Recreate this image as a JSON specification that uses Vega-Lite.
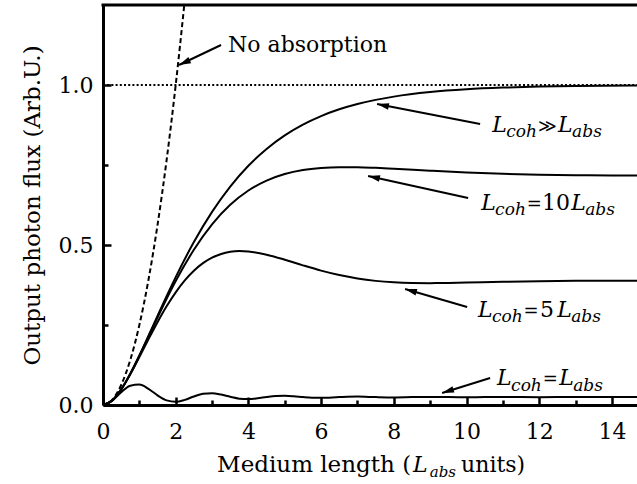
{
  "$schema": "https://vega.github.io/schema/vega-lite/v6.json",
  "width": 534,
  "height": 400,
  "autosize": {"type": "none"},
  "padding": {"left": 103, "top": 5, "right": 0, "bottom": 79},
  "background": "white",
  "config": {
    "view": {"stroke": null},
    "font": "DejaVu Serif, Liberation Serif, serif",
    "axis": {
      "grid": false,
      "domain": true,
      "domainColor": "black",
      "domainWidth": 3,
      "tickColor": "black",
      "tickWidth": 2.5,
      "tickSize": -8,
      "labelFont": "DejaVu Serif, Liberation Serif, serif",
      "labelFontSize": 22,
      "labelColor": "black",
      "labelFlush": false,
      "labelOverlap": false,
      "labelBound": false,
      "titleFont": "DejaVu Serif, Liberation Serif, serif",
      "titleFontWeight": "normal",
      "titleColor": "black"
    }
  },
  "datasets": {
    "curves": [
      {"s": "inf", "x": 0, "y": 0}, {"s": "inf", "x": 0.25, "y": 0.0138}, {"s": "inf", "x": 0.5, "y": 0.0489}, {"s": "inf", "x": 0.75, "y": 0.0978},
      {"s": "inf", "x": 1, "y": 0.1548}, {"s": "inf", "x": 1.25, "y": 0.2159}, {"s": "inf", "x": 1.5, "y": 0.2784}, {"s": "inf", "x": 1.75, "y": 0.34},
      {"s": "inf", "x": 2, "y": 0.3996}, {"s": "inf", "x": 2.5, "y": 0.5091}, {"s": "inf", "x": 3, "y": 0.6035}, {"s": "inf", "x": 3.5, "y": 0.6826},
      {"s": "inf", "x": 4, "y": 0.7477}, {"s": "inf", "x": 4.5, "y": 0.8003}, {"s": "inf", "x": 5, "y": 0.8426}, {"s": "inf", "x": 5.5, "y": 0.8762},
      {"s": "inf", "x": 6, "y": 0.9029}, {"s": "inf", "x": 6.5, "y": 0.924}, {"s": "inf", "x": 7, "y": 0.9405}, {"s": "inf", "x": 7.5, "y": 0.9535},
      {"s": "inf", "x": 8, "y": 0.9637}, {"s": "inf", "x": 9, "y": 0.9779}, {"s": "inf", "x": 10, "y": 0.9866}, {"s": "inf", "x": 11, "y": 0.9918},
      {"s": "inf", "x": 12, "y": 0.995}, {"s": "inf", "x": 13, "y": 0.997}, {"s": "inf", "x": 14.69, "y": 0.9987},
      {"s": "c10", "x": 0, "y": 0}, {"s": "c10", "x": 0.25, "y": 0.0138}, {"s": "c10", "x": 0.5, "y": 0.0488}, {"s": "c10", "x": 0.75, "y": 0.0973},
      {"s": "c10", "x": 1, "y": 0.1536}, {"s": "c10", "x": 1.25, "y": 0.2133}, {"s": "c10", "x": 1.5, "y": 0.2734}, {"s": "c10", "x": 1.75, "y": 0.3319},
      {"s": "c10", "x": 2, "y": 0.3873}, {"s": "c10", "x": 2.5, "y": 0.4853}, {"s": "c10", "x": 3, "y": 0.5646}, {"s": "c10", "x": 3.5, "y": 0.6255},
      {"s": "c10", "x": 4, "y": 0.6702}, {"s": "c10", "x": 4.5, "y": 0.7013}, {"s": "c10", "x": 5, "y": 0.7218}, {"s": "c10", "x": 5.5, "y": 0.7343},
      {"s": "c10", "x": 6, "y": 0.7408}, {"s": "c10", "x": 6.5, "y": 0.7433}, {"s": "c10", "x": 7, "y": 0.7431}, {"s": "c10", "x": 7.5, "y": 0.7412},
      {"s": "c10", "x": 8, "y": 0.7385}, {"s": "c10", "x": 9, "y": 0.7322}, {"s": "c10", "x": 10, "y": 0.7267}, {"s": "c10", "x": 11, "y": 0.7226},
      {"s": "c10", "x": 12, "y": 0.7199}, {"s": "c10", "x": 13, "y": 0.7183}, {"s": "c10", "x": 14, "y": 0.7174}, {"s": "c10", "x": 14.69, "y": 0.7171},
      {"s": "c5", "x": 0, "y": 0}, {"s": "c5", "x": 0.25, "y": 0.0138}, {"s": "c5", "x": 0.5, "y": 0.0485}, {"s": "c5", "x": 0.75, "y": 0.096},
      {"s": "c5", "x": 1, "y": 0.1498}, {"s": "c5", "x": 1.25, "y": 0.2053}, {"s": "c5", "x": 1.5, "y": 0.2589}, {"s": "c5", "x": 1.75, "y": 0.3083},
      {"s": "c5", "x": 2, "y": 0.352}, {"s": "c5", "x": 2.25, "y": 0.3892}, {"s": "c5", "x": 2.5, "y": 0.4195}, {"s": "c5", "x": 2.75, "y": 0.4432},
      {"s": "c5", "x": 3, "y": 0.4605}, {"s": "c5", "x": 3.25, "y": 0.472}, {"s": "c5", "x": 3.5, "y": 0.4786}, {"s": "c5", "x": 3.75, "y": 0.4809},
      {"s": "c5", "x": 4, "y": 0.4797}, {"s": "c5", "x": 4.5, "y": 0.4697}, {"s": "c5", "x": 5, "y": 0.454}, {"s": "c5", "x": 5.5, "y": 0.4364},
      {"s": "c5", "x": 6, "y": 0.4199}, {"s": "c5", "x": 6.5, "y": 0.406}, {"s": "c5", "x": 7, "y": 0.3953}, {"s": "c5", "x": 7.5, "y": 0.3879},
      {"s": "c5", "x": 8, "y": 0.3834}, {"s": "c5", "x": 8.5, "y": 0.3813}, {"s": "c5", "x": 9, "y": 0.3808}, {"s": "c5", "x": 9.5, "y": 0.3813},
      {"s": "c5", "x": 10, "y": 0.3825}, {"s": "c5", "x": 11, "y": 0.3851}, {"s": "c5", "x": 12, "y": 0.3871}, {"s": "c5", "x": 13, "y": 0.3881},
      {"s": "c5", "x": 14, "y": 0.3883}, {"s": "c5", "x": 14.69, "y": 0.3882},
      {"s": "c1", "x": 0, "y": 0}, {"s": "c1", "x": 0.25, "y": 0.0131}, {"s": "c1", "x": 0.5, "y": 0.0397}, {"s": "c1", "x": 0.75, "y": 0.0604},
      {"s": "c1", "x": 1, "y": 0.0638}, {"s": "c1", "x": 1.25, "y": 0.0505}, {"s": "c1", "x": 1.5, "y": 0.0302}, {"s": "c1", "x": 1.75, "y": 0.0144},
      {"s": "c1", "x": 2, "y": 0.0099}, {"s": "c1", "x": 2.25, "y": 0.016}, {"s": "c1", "x": 2.5, "y": 0.0267}, {"s": "c1", "x": 2.75, "y": 0.0351},
      {"s": "c1", "x": 3, "y": 0.037}, {"s": "c1", "x": 3.25, "y": 0.0325}, {"s": "c1", "x": 3.5, "y": 0.0255}, {"s": "c1", "x": 3.75, "y": 0.0199},
      {"s": "c1", "x": 4, "y": 0.0185}, {"s": "c1", "x": 4.25, "y": 0.0209}, {"s": "c1", "x": 4.5, "y": 0.025}, {"s": "c1", "x": 4.75, "y": 0.0282},
      {"s": "c1", "x": 5, "y": 0.0289}, {"s": "c1", "x": 5.25, "y": 0.0274}, {"s": "c1", "x": 5.5, "y": 0.0248}, {"s": "c1", "x": 5.75, "y": 0.0228},
      {"s": "c1", "x": 6, "y": 0.0223}, {"s": "c1", "x": 6.5, "y": 0.0247}, {"s": "c1", "x": 7, "y": 0.0262}, {"s": "c1", "x": 7.5, "y": 0.0247},
      {"s": "c1", "x": 8, "y": 0.0238}, {"s": "c1", "x": 8.5, "y": 0.0247}, {"s": "c1", "x": 9, "y": 0.0253}, {"s": "c1", "x": 9.5, "y": 0.0247},
      {"s": "c1", "x": 10, "y": 0.0244}, {"s": "c1", "x": 10.5, "y": 0.0247}, {"s": "c1", "x": 11, "y": 0.0249}, {"s": "c1", "x": 12, "y": 0.0246},
      {"s": "c1", "x": 13, "y": 0.0248}, {"s": "c1", "x": 14, "y": 0.0247}, {"s": "c1", "x": 14.69, "y": 0.0247},
      {"s": "noabs", "x": 0, "y": 0}, {"s": "noabs", "x": 0.25, "y": 0.0156}, {"s": "noabs", "x": 0.5, "y": 0.0625}, {"s": "noabs", "x": 0.75, "y": 0.1406},
      {"s": "noabs", "x": 1, "y": 0.25}, {"s": "noabs", "x": 1.25, "y": 0.3906}, {"s": "noabs", "x": 1.5, "y": 0.5625}, {"s": "noabs", "x": 1.75, "y": 0.7656},
      {"s": "noabs", "x": 2, "y": 1.0}, {"s": "noabs", "x": 2.236, "y": 1.25},
      {"s": "ref", "x": 0, "y": 1.0}, {"s": "ref", "x": 14.69, "y": 1.0}
    ],
    "frame": [{"x": 0, "x2": 14.69, "y": 1.25}],
    "arrows": [
      {"id": "a1", "x": 2.091, "y": 1.0625, "x2": 3.247, "y2": 1.125},
      {"id": "a2", "x": 7.54, "y": 0.9406, "x2": 10.374, "y2": 0.8781},
      {"id": "a3", "x": 7.292, "y": 0.7156, "x2": 10.044, "y2": 0.6469},
      {"id": "a4", "x": 8.31, "y": 0.3625, "x2": 10.017, "y2": 0.3063},
      {"id": "a5", "x": 9.329, "y": 0.0375, "x2": 10.649, "y2": 0.0844}
    ],
    "texts": [
      {"k": "up", "t": "No absorption", "x": 3.44, "y": 1.1031},
      {"k": "L", "t": "L", "x": 10.705, "y": 0.8531},
      {"k": "sub", "t": "coh", "x": 11.09, "y": 0.8375},
      {"k": "sym", "t": "≫", "x": 11.957, "y": 0.8531},
      {"k": "L", "t": "L", "x": 12.52, "y": 0.8531},
      {"k": "sub", "t": "abs", "x": 12.905, "y": 0.8375},
      {"k": "L", "t": "L", "x": 10.402, "y": 0.6094},
      {"k": "sub", "t": "coh", "x": 10.787, "y": 0.5922},
      {"k": "sym", "t": "=", "x": 11.654, "y": 0.6094},
      {"k": "up", "t": "10", "x": 12.08, "y": 0.6094},
      {"k": "L", "t": "L", "x": 12.878, "y": 0.6094},
      {"k": "sub", "t": "abs", "x": 13.264, "y": 0.5922},
      {"k": "L", "t": "L", "x": 10.319, "y": 0.2759},
      {"k": "sub", "t": "coh", "x": 10.704, "y": 0.2594},
      {"k": "sym", "t": "=", "x": 11.571, "y": 0.2759},
      {"k": "up", "t": "5", "x": 12.025, "y": 0.2759},
      {"k": "L", "t": "L", "x": 12.493, "y": 0.2759},
      {"k": "sub", "t": "abs", "x": 12.878, "y": 0.2594},
      {"k": "L", "t": "L", "x": 10.842, "y": 0.0625},
      {"k": "sub", "t": "coh", "x": 11.227, "y": 0.0453},
      {"k": "sym", "t": "=", "x": 12.094, "y": 0.0625},
      {"k": "L", "t": "L", "x": 12.548, "y": 0.0625},
      {"k": "sub", "t": "abs", "x": 12.933, "y": 0.0453},
      {"k": "upr", "t": "Medium length (", "x": 8.476, "y": -0.2094},
      {"k": "L", "t": "L", "x": 8.531, "y": -0.2094},
      {"k": "tsub", "t": "abs", "x": 8.99, "y": -0.225},
      {"k": "up", "t": "units)", "x": 9.85, "y": -0.2094}
    ]
  },
  "encoding": {
    "x": {
      "field": "x", "type": "quantitative",
      "scale": {"domain": [0, 14.69], "nice": false, "zero": false},
      "axis": {
        "title": null,
        "values": [0, 1, 2, 3, 4, 5, 6, 7, 8, 9, 10, 11, 12, 13, 14],
        "labelExpr": "datum.value % 2 === 0 ? datum.label : ''",
        "tickDash": {"condition": {"test": "datum.value % 2 === 1", "value": [5, 20]}, "value": [20, 0]},
        "labelPadding": 24
      }
    },
    "y": {
      "field": "y", "type": "quantitative",
      "scale": {"domain": [0, 1.25], "nice": false, "zero": false},
      "axis": {
        "title": "Output photon flux (Arb.U.)",
        "titleFontSize": 23,
        "titlePadding": 14,
        "values": [0, 0.25, 0.5, 0.75, 1],
        "labelExpr": "datum.value % 0.5 === 0 ? format(datum.value, '.1f') : ''",
        "tickDash": {"condition": {"test": "datum.value % 0.5 !== 0", "value": [5, 20]}, "value": [20, 0]},
        "labelPadding": 18
      }
    }
  },
  "layer": [
    {
      "data": {"name": "curves"},
      "transform": [{"filter": "datum.s !== 'noabs' && datum.s !== 'ref'"}],
      "mark": {"type": "line", "interpolate": "monotone", "color": "black", "strokeWidth": 2, "clip": true},
      "encoding": {"detail": {"field": "s"}}
    },
    {
      "data": {"name": "curves"},
      "transform": [{"filter": "datum.s === 'noabs'"}],
      "mark": {"type": "line", "interpolate": "monotone", "color": "black", "strokeWidth": 2, "strokeDash": [5, 3], "clip": true},
      "encoding": {}
    },
    {
      "data": {"name": "curves"},
      "transform": [{"filter": "datum.s === 'ref'"}],
      "mark": {"type": "line", "color": "black", "strokeWidth": 2, "strokeDash": [2, 2.2]},
      "encoding": {}
    },
    {
      "data": {"name": "frame"},
      "mark": {"type": "rule", "color": "black", "strokeWidth": 3, "strokeCap": "square"},
      "encoding": {"x2": {"field": "x2"}}
    },
    {
      "data": {"name": "arrows"},
      "mark": {"type": "rule", "color": "black", "strokeWidth": 2},
      "encoding": {"x2": {"field": "x2"}, "y2": {"field": "y2"}}
    },
    {
      "data": {"name": "arrows"},
      "transform": [{"filter": "datum.id === 'a1'"}],
      "mark": {"type": "point", "shape": "M0,0L-0.7,2.5L0.7,2.5Z", "size": 90, "filled": true, "color": "black", "opacity": 1, "angle": 245.7},
      "encoding": {}
    },
    {
      "data": {"name": "arrows"},
      "transform": [{"filter": "datum.id === 'a2'"}],
      "mark": {"type": "point", "shape": "M0,0L-0.7,2.5L0.7,2.5Z", "size": 90, "filled": true, "color": "black", "opacity": 1, "angle": 281.6},
      "encoding": {}
    },
    {
      "data": {"name": "arrows"},
      "transform": [{"filter": "datum.id === 'a3'"}],
      "mark": {"type": "point", "shape": "M0,0L-0.7,2.5L0.7,2.5Z", "size": 90, "filled": true, "color": "black", "opacity": 1, "angle": 282.4},
      "encoding": {}
    },
    {
      "data": {"name": "arrows"},
      "transform": [{"filter": "datum.id === 'a4'"}],
      "mark": {"type": "point", "shape": "M0,0L-0.7,2.5L0.7,2.5Z", "size": 90, "filled": true, "color": "black", "opacity": 1, "angle": 286.2},
      "encoding": {}
    },
    {
      "data": {"name": "arrows"},
      "transform": [{"filter": "datum.id === 'a5'"}],
      "mark": {"type": "point", "shape": "M0,0L-0.7,2.5L0.7,2.5Z", "size": 90, "filled": true, "color": "black", "opacity": 1, "angle": 252.6},
      "encoding": {}
    },
    {
      "data": {"name": "texts"},
      "transform": [{"filter": "datum.k === 'L'"}],
      "mark": {"type": "text", "font": "DejaVu Serif, Liberation Serif, serif", "fontStyle": "italic", "fontSize": 22, "align": "left", "baseline": "alphabetic", "color": "black"},
      "encoding": {"text": {"field": "t"}}
    },
    {
      "data": {"name": "texts"},
      "transform": [{"filter": "datum.k === 'sub'"}],
      "mark": {"type": "text", "font": "DejaVu Serif, Liberation Serif, serif", "fontStyle": "italic", "fontSize": 17, "align": "left", "baseline": "alphabetic", "color": "black"},
      "encoding": {"text": {"field": "t"}}
    },
    {
      "data": {"name": "texts"},
      "transform": [{"filter": "datum.k === 'tsub'"}],
      "mark": {"type": "text", "font": "DejaVu Serif, Liberation Serif, serif", "fontStyle": "italic", "fontSize": 15, "align": "left", "baseline": "alphabetic", "color": "black"},
      "encoding": {"text": {"field": "t"}}
    },
    {
      "data": {"name": "texts"},
      "transform": [{"filter": "datum.k === 'up'"}],
      "mark": {"type": "text", "font": "DejaVu Serif, Liberation Serif, serif", "fontSize": 22, "align": "left", "baseline": "alphabetic", "color": "black"},
      "encoding": {"text": {"field": "t"}}
    },
    {
      "data": {"name": "texts"},
      "transform": [{"filter": "datum.k === 'sym'"}],
      "mark": {"type": "text", "font": "DejaVu Serif, Liberation Serif, serif", "fontSize": 18, "align": "left", "baseline": "alphabetic", "color": "black"},
      "encoding": {"text": {"field": "t"}}
    },
    {
      "data": {"name": "texts"},
      "transform": [{"filter": "datum.k === 'upr'"}],
      "mark": {"type": "text", "font": "DejaVu Serif, Liberation Serif, serif", "fontSize": 23, "align": "right", "baseline": "alphabetic", "color": "black"},
      "encoding": {"text": {"field": "t"}}
    }
  ]
}
